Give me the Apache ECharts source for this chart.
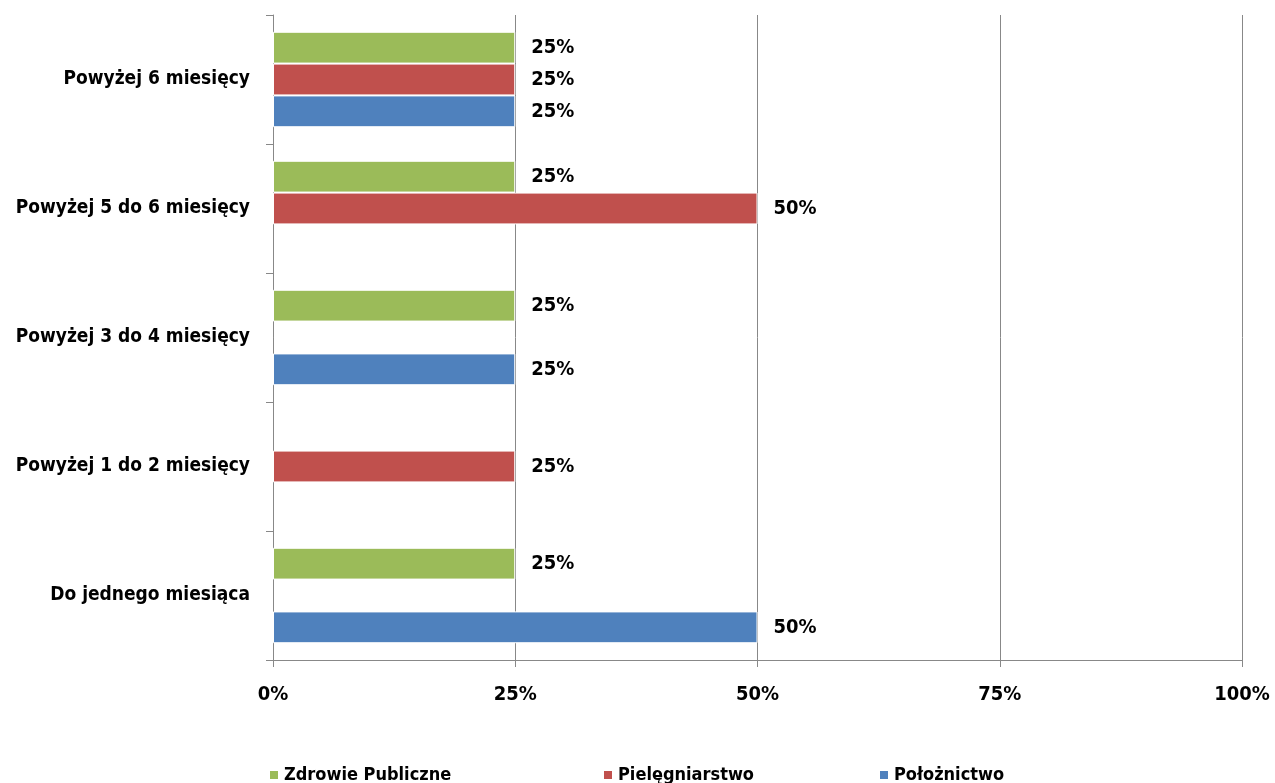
<!DOCTYPE html>
<html>
<head>
<meta charset="utf-8">
<script src="https://cdn.jsdelivr.net/npm/echarts@6/dist/echarts.min.js"></script>
<style>
  html, body { margin: 0; padding: 0; background: #fff; }
  #chart { width: 1275px; height: 783px; }
</style>
</head>
<body>
<div id="chart"></div>
<script>
const categories = [
  'Do jednego miesiąca',
  'Powyżej 1 do 2 miesięcy',
  'Powyżej 3 do 4 miesięcy',
  'Powyżej 5 do 6 miesięcy',
  'Powyżej 6 miesięcy'
];
const polozníctwoName = 'Położnictwo';
const pielegniarstwoName = 'Pielęgniarstwo';
const zdrowieName = 'Zdrowie Publiczne';

const polozníctwo = [50, null, 25, null, 25];
const pielegniarstwo = [null, 25, null, 50, 25];
const zdrowie = [25, null, 25, 25, 25];

const xTicks = [0, 25, 50, 75, 100];

const font = '"Liberation Sans Narrow", "DejaVu Sans Condensed", sans-serif';

const chart = echarts.init(document.getElementById('chart'));

function barSeries(name, data, color) {
  return {
    name: name,
    type: 'bar',
    data: data,
    barGap: '0%',
    barCategoryGap: '26%',
    itemStyle: { color: color, borderColor: '#fff', borderWidth: 1 },
    label: {
      show: true,
      position: 'right',
      distance: 16,
      formatter: '{c}%',
      color: '#000',
      fontFamily: font,
      fontWeight: 'bold',
      fontSize: 20
    }
  };
}

function legendAt(name, left) {
  return {
    data: [name],
    left: left,
    top: 761,
    itemWidth: 10,
    itemHeight: 10,
    itemGap: 4,
    icon: 'rect',
    textStyle: { color: '#000', fontFamily: font, fontWeight: 'bold', fontSize: 18 }
  };
}

chart.setOption({
  animation: false,
  grid: { left: 273, right: 33, top: 15, bottom: 123, containLabel: false },
  legend: [
    legendAt(zdrowieName, 263),
    legendAt(pielegniarstwoName, 597),
    legendAt(polozníctwoName, 873)
  ],
  xAxis: {
    type: 'value',
    min: xTicks[0],
    max: xTicks[xTicks.length - 1],
    interval: 25,
    axisLine: { show: true, lineStyle: { color: '#888', width: 1 } },
    axisTick: { show: true, length: 7, lineStyle: { color: '#888' } },
    splitLine: { show: true, lineStyle: { color: '#888', width: 1 } },
    axisLabel: {
      formatter: '{value}%',
      margin: 25,
      color: '#000',
      fontFamily: font,
      fontWeight: 'bold',
      fontSize: 20
    }
  },
  yAxis: {
    type: 'category',
    data: categories,
    axisLine: { show: true, lineStyle: { color: '#888', width: 1 } },
    axisTick: { show: true, length: 7, inside: false, lineStyle: { color: '#888' } },
    axisLabel: {
      margin: 23,
      color: '#000',
      fontFamily: font,
      fontWeight: 'bold',
      fontSize: 19
    }
  },
  series: [
    barSeries(zdrowieName, zdrowie, '#9BBB59'),
    barSeries(pielegniarstwoName, pielegniarstwo, '#C0504D'),
    barSeries(polozníctwoName, polozníctwo, '#4F81BD')
  ]
});

window.addEventListener('resize', () => chart.resize());
</script>
</body>
</html>
